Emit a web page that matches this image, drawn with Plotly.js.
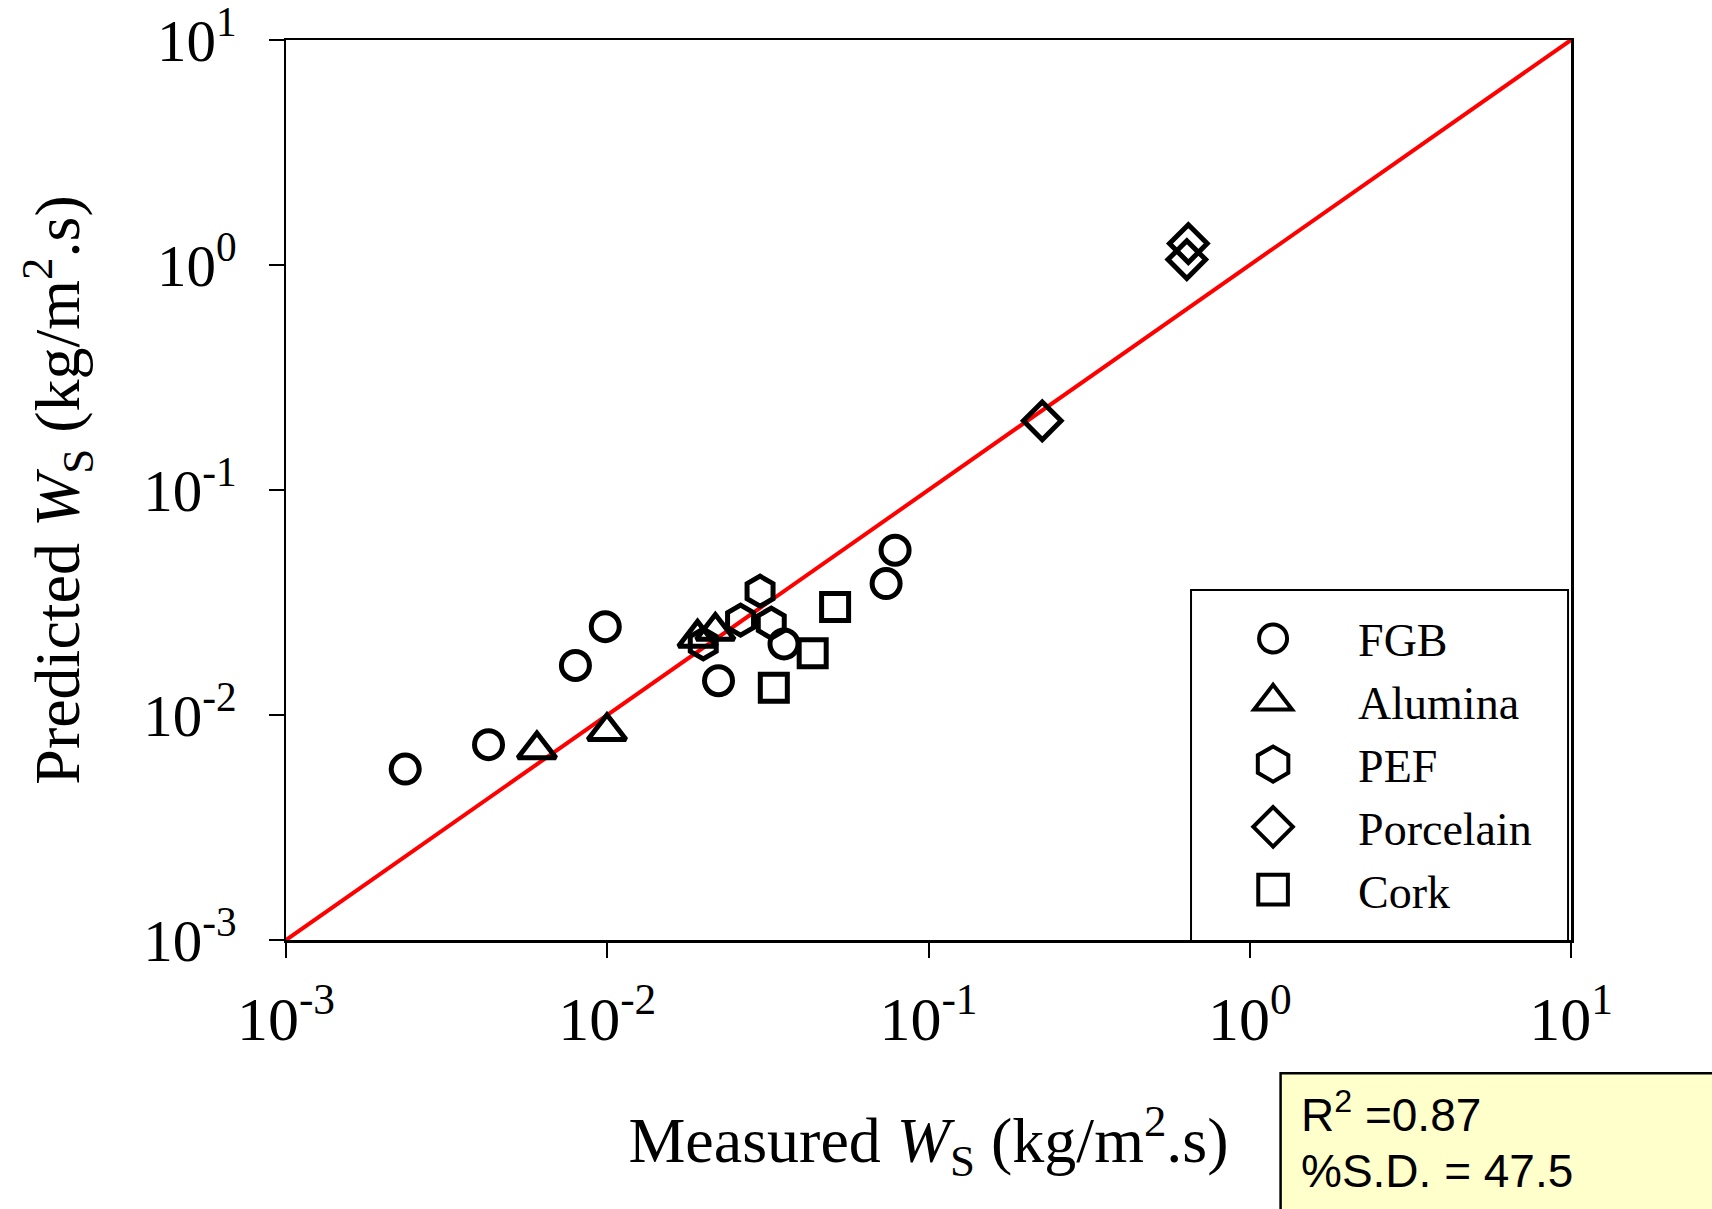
<!DOCTYPE html>
<html>
<head>
<meta charset="utf-8">
<script src="https://cdn.plot.ly/plotly-3.0.1.min.js"></script>
<style>
  html, body { margin: 0; padding: 0; background: #ffffff; }
  #chart { width: 1712px; height: 1209px; }
</style>
</head>
<body>
<div id="chart"></div>
<script>
// ---- Data ----
const fgbX = [0.00235, 0.00427, 0.00796, 0.00986, 0.0222, 0.0355, 0.0738, 0.0787];
const fgbY = [0.00575, 0.00738, 0.0166, 0.0247, 0.0142, 0.0207, 0.0384, 0.0540];

const aluminaX = [0.00604, 0.00998, 0.0191, 0.0217];
const aluminaY = [0.00702, 0.00847, 0.0220, 0.0236];

const pefX = [0.0299, 0.0260, 0.0324, 0.0199];
const pefY = [0.0355, 0.0264, 0.0256, 0.0207];

const porcelainX = [0.226, 0.644, 0.637];
const porcelainY = [0.203, 1.245, 1.057];

const corkX = [0.0512, 0.0436, 0.0330];
const corkY = [0.0302, 0.0188, 0.0132];

const parityX = [0.001, 10];
const parityY = [0.001, 10];

const tickVals = [0.001, 0.01, 0.1, 1, 10];
const tickText = ['10<sup>-3</sup>', '10<sup>-2</sup>', '10<sup>-1</sup>', '10<sup>0</sup>', '10<sup>1</sup>'];

const statR2 = 'R<sup>2</sup> =0.87';
const statSD = '%S.D. = 47.5';

// ---- Styling ----
const SERIF = 'Liberation Serif, Times New Roman, serif';
const SANS = 'Liberation Sans, Arial, sans-serif';

function series(name, x, y, symbol, size) {
  return {
    type: 'scatter', mode: 'markers', name: name, x: x, y: y,
    marker: { symbol: symbol, size: size, color: '#000000', line: { width: 5, color: '#000000' } },
    cliponaxis: false
  };
}

const traces = [
  { type: 'scatter', mode: 'lines', x: parityX, y: parityY, showlegend: false,
    line: { color: '#ff0000', width: 4 }, hoverinfo: 'skip' },
  series('FGB', fgbX, fgbY, 'circle-open', 28),
  series('Alumina', aluminaX, aluminaY, 'triangle-up-open', 33),
  series('PEF', pefX, pefY, 'hexagon-open', 30),
  series('Porcelain', porcelainX, porcelainY, 'diamond-open', 29),
  series('Cork', corkX, corkY, 'square-open', 27)
];
// legend symbol enlargement per entry (Plotly caps legend symbols at 16px)
const legendSymbolScale = [1.75, 2.05, 2.2, 1.9, 1.85];

function axis(titleText, standoff, tickSize, labelStandoff) {
  return {
    type: 'log', range: [-3, 1],
    tickmode: 'array', tickvals: tickVals, ticktext: tickText,
    ticks: 'outside', ticklen: 15, tickwidth: 2, tickcolor: '#000000',
    ticklabelstandoff: labelStandoff, ticklabeloverflow: 'allow',
    showline: true, linewidth: 2.5, linecolor: '#000000', mirror: true,
    showgrid: false, zeroline: false,
    tickfont: { family: SERIF, size: tickSize, color: '#000000' },
    title: { text: titleText, font: { family: SERIF, size: 64, color: '#000000' }, standoff: standoff }
  };
}

const layout = {
  width: 1712, height: 1209,
  margin: { l: 286, r: 141, t: 40, b: 269, pad: 0 },
  paper_bgcolor: '#ffffff', plot_bgcolor: '#ffffff',
  xaxis: axis('Measured <i>W</i><sub>S</sub> (kg/m<sup>2</sup>.s)', 66, 62, 8),
  yaxis: axis('Predicted <i>W</i><sub>S</sub> (kg/m<sup>2</sup>.s)', 43, 59, 20),
  showlegend: true,
  legend: {
    x: 0.702, xanchor: 'left', y: 0.3755, yanchor: 'top',
    bgcolor: 'rgba(0,0,0,0)', borderwidth: 0,
    itemwidth: 160, tracegroupgap: 0,
    font: { family: SERIF, size: 46, color: '#000000' }
  },
  shapes: [
    { type: 'rect', xref: 'paper', yref: 'paper', layer: 'below',
      x0: 0.7043, x1: 0.9977, y0: -0.0022, y1: 0.3889,
      line: { color: '#000000', width: 2 }, fillcolor: '#ffffff' },
    { type: 'rect', xref: 'paper', yref: 'paper',
      x0: 0.774, x1: 1.2, y0: -0.148, y1: -0.45,
      line: { color: '#000000', width: 2.5 }, fillcolor: '#ffffcc' }
  ],
  annotations: [
    { xref: 'paper', yref: 'paper', x: 0.788, y: -0.191, xanchor: 'left', yanchor: 'middle',
      text: statR2, showarrow: false, font: { family: SANS, size: 46, color: '#000000' } },
    { xref: 'paper', yref: 'paper', x: 0.788, y: -0.257, xanchor: 'left', yanchor: 'middle',
      text: statSD, showarrow: false, font: { family: SANS, size: 46, color: '#000000' } }
  ]
};

Plotly.newPlot('chart', traces, layout, { displayModeBar: false, staticPlot: true }).then(function (gd) {
  const items = gd.querySelectorAll('.legend .traces');
  items.forEach(function (item, i) {
    const s = legendSymbolScale[i] || 1.8;
    item.querySelectorAll('.legendpoints path.scatterpts').forEach(function (p) {
      const t = p.getAttribute('transform') || '';
      p.setAttribute('transform', t + ' scale(' + s + ')');
      p.style.vectorEffect = 'non-scaling-stroke';
      p.style.strokeWidth = '4px';
    });
  });
});
</script>
</body>
</html>
